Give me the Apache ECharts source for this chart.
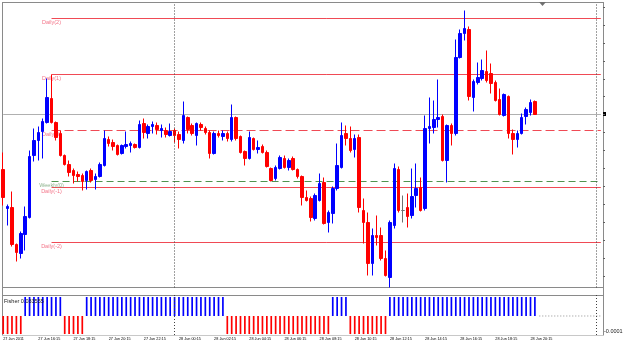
<!DOCTYPE html>
<html><head><meta charset="utf-8">
<script src="https://cdn.jsdelivr.net/npm/echarts@6/dist/echarts.min.js"></script>
<style>html,body{margin:0;padding:0;background:#fff}#c{width:625px;height:346px}</style>
</head><body><div id="c"></div>
<script>
// 15-minute bars, 27 Jun 2011 14:15 .. 28 Jun 2011 20:30
const opens=[1.4287,1.4248,1.4249,1.4212,1.4203,1.4222,1.4239,1.4301,1.4316,1.4325,
1.4334,1.4358,1.4334,1.4323,1.4301,1.4292,1.4286,1.4282,1.4281,1.4276,
1.4286,1.4277,1.4280,1.4291,1.4317,1.4314,1.4311,1.4303,1.4310,1.4311,
1.4312,1.4309,1.4333,1.4323,1.4330,1.4331,1.4326,1.4326,1.4321,1.4326,
1.4322,1.4316,1.4339,1.4331,1.4321,1.4332,1.4328,1.4324,1.4303,1.4323,
1.4320,1.4323,1.4317,1.4339,1.4320,1.4305,1.4298,1.4318,1.4307,1.4310,
1.4304,1.4288,1.4278,1.4288,1.4298,1.4289,1.4298,1.4287,1.4280,1.4259,
1.4258,1.4238,1.4256,1.4274,1.4234,1.4243,1.4268,1.4289,1.4323,1.4318,
1.4307,1.4319,1.4246,1.4234,1.4193,1.4221,1.4221,1.4198,1.4179,1.4231,
1.4287,1.4246,1.4249,1.4241,1.4261,1.4269,1.4248,1.4328,1.4329,1.4337,
1.4340,1.4296,1.4331,1.4323,1.4399,1.4423,1.4427,1.4359,1.4374,1.4378,
1.4385,1.4383,1.4374,1.4357,1.4341,1.4360,1.4323,1.4317,1.4323,1.4340,
1.4344,1.4355];
const closes=[1.4259,1.4250,1.4212,1.4204,1.4223,1.4240,1.4300,1.4316,1.4324,1.4335,
1.4359,1.4334,1.4319,1.4301,1.4292,1.4284,1.4281,1.4280,1.4275,1.4285,
1.4276,1.4280,1.4292,1.4318,1.4313,1.4310,1.4302,1.4311,1.4312,1.4313,
1.4309,1.4332,1.4324,1.4330,1.4332,1.4327,1.4328,1.4322,1.4325,1.4321,
1.4317,1.4341,1.4327,1.4323,1.4333,1.4329,1.4324,1.4303,1.4323,1.4321,
1.4323,1.4318,1.4339,1.4318,1.4304,1.4298,1.4319,1.4307,1.4309,1.4304,
1.4290,1.4276,1.4289,1.4299,1.4289,1.4296,1.4287,1.4280,1.4259,1.4256,
1.4239,1.4261,1.4273,1.4233,1.4244,1.4268,1.4291,1.4321,1.4318,1.4306,
1.4318,1.4249,1.4234,1.4193,1.4221,1.4219,1.4198,1.4181,1.4234,1.4288,
1.4246,1.4246,1.4240,1.4260,1.4268,1.4246,1.4328,1.4330,1.4337,1.4339,
1.4296,1.4331,1.4323,1.4399,1.4423,1.4428,1.4360,1.4375,1.4379,1.4386,
1.4376,1.4373,1.4356,1.4342,1.4362,1.4323,1.4317,1.4323,1.4339,1.4347,
1.4354,1.4342];
const lows=[1.4251,1.4231,1.4210,1.4195,1.4198,1.4206,1.4238,1.4295,1.4296,1.4298,
1.4333,1.4333,1.4316,1.4300,1.4291,1.4280,1.4273,1.4275,1.4266,1.4267,
1.4274,1.4267,1.4279,1.4290,1.4310,1.4306,1.4301,1.4302,1.4308,1.4304,
1.4308,1.4308,1.4318,1.4318,1.4323,1.4322,1.4319,1.4319,1.4320,1.4314,
1.4308,1.4313,1.4323,1.4321,1.4311,1.4326,1.4322,1.4298,1.4302,1.4319,
1.4316,1.4315,1.4315,1.4316,1.4303,1.4291,1.4297,1.4306,1.4303,1.4303,
1.4289,1.4275,1.4276,1.4287,1.4288,1.4286,1.4286,1.4278,1.4251,1.4255,
1.4235,1.4236,1.4255,1.4232,1.4224,1.4233,1.4266,1.4288,1.4311,1.4304,
1.4299,1.4244,1.4213,1.4181,1.4181,1.4211,1.4196,1.4180,1.4169,1.4228,
1.4244,1.4234,1.4229,1.4238,1.4249,1.4245,1.4246,1.4313,1.4323,1.4329,
1.4295,1.4274,1.4311,1.4321,1.4398,1.4416,1.4356,1.4345,1.4372,1.4376,
1.4374,1.4363,1.4355,1.4341,1.4340,1.4318,1.4302,1.4309,1.4322,1.4332,
1.4341,1.4342];
const highs=[1.4304,1.4252,1.4265,1.4213,1.4225,1.4250,1.4306,1.4328,1.4330,1.4338,
1.4378,1.4382,1.4335,1.4326,1.4302,1.4296,1.4288,1.4285,1.4283,1.4286,
1.4288,1.4283,1.4294,1.4326,1.4320,1.4317,1.4312,1.4312,1.4325,1.4315,
1.4313,1.4336,1.4338,1.4332,1.4335,1.4334,1.4332,1.4329,1.4333,1.4328,
1.4325,1.4355,1.4340,1.4333,1.4334,1.4334,1.4330,1.4326,1.4325,1.4326,
1.4326,1.4325,1.4352,1.4340,1.4321,1.4306,1.4325,1.4319,1.4316,1.4312,
1.4306,1.4289,1.4291,1.4301,1.4301,1.4298,1.4300,1.4288,1.4281,1.4266,
1.4260,1.4263,1.4283,1.4279,1.4246,1.4270,1.4313,1.4334,1.4331,1.4330,
1.4322,1.4322,1.4258,1.4244,1.4228,1.4241,1.4229,1.4206,1.4236,1.4293,
1.4290,1.4261,1.4263,1.4288,1.4293,1.4279,1.4341,1.4359,1.4356,1.4377,
1.4342,1.4332,1.4333,1.4417,1.4427,1.4446,1.4430,1.4377,1.4394,1.4397,
1.4406,1.4393,1.4376,1.4368,1.4363,1.4361,1.4327,1.4326,1.4343,1.4349,
1.4357,1.4356];
const fisher=[-0.95,-0.95,-0.95,-0.95,-0.95,
1,1,1,1,1,1,1,1,1,
-0.95,-0.95,-0.95,-0.95,-0.95,
1,1,1,1,1,1,1,1,1,1,1,1,1,1,1,1,1,1,1,1,1,1,1,1,1,1,1,1,1,1,1,1,
-0.95,-0.95,-0.95,-0.95,-0.95,-0.95,-0.95,-0.95,-0.95,-0.95,-0.95,-0.95,
-0.95,-0.95,-0.95,-0.95,-0.95,-0.95,-0.95,-0.95,-0.95,-0.95,-0.95,-0.95,
1,1,1,1,
-0.95,-0.95,-0.95,-0.95,-0.95,-0.95,-0.95,-0.95,-0.95,
1,1,1,1,1,1,1,1,1,1,1,1,1,1,1,1,1,1,1,1,1,1,1,1,1,1,1,1,1,1,1,1,1,1];
const tickLabels=["27 Jun 2011","27 Jun 16:15","27 Jun 18:15","27 Jun 20:15","27 Jun 22:15",
"28 Jun 00:15","28 Jun 02:15","28 Jun 04:15","28 Jun 06:15","28 Jun 08:15","28 Jun 10:15",
"28 Jun 12:15","28 Jun 14:15","28 Jun 16:15","28 Jun 18:15","28 Jun 20:15"];
const levelNames=["Daily(2)","Daily(1)","Daily(0)","Weekly(0)","Daily(-1)","Daily(-2)"];
const levelValues=[1.4438,1.4382,1.4326,1.4275,1.4269,1.4214];
const levelStartBar=11;
const bidPrice=1.4342;
const fisherTitle="Fisher 0.033555";
const subScaleLabel="-0.0001";

const FONT='Liberation Sans, Arial, sans-serif';
const N=137;
const MON=['Jan','Feb','Mar','Apr','May','Jun','Jul','Aug','Sep','Oct','Nov','Dec'];
const t0=Date.UTC(2011,5,27,14,15);
const p2=n=>String(n).padStart(2,'0');
const cats=[];
for(let i=0;i<N;i++){const d=new Date(t0+i*900000);cats.push(p2(d.getUTCDate())+' '+MON[d.getUTCMonth()]+' '+p2(d.getUTCHours())+':'+p2(d.getUTCMinutes()));}
const seps=[];cats.forEach((c,i)=>{if(c.endsWith('00:00'))seps.push(i);});
const candles=opens.map((o,i)=>[o,closes[i],lows[i],highs[i]]);

const sepStyle={color:'#404040',type:[1,2],width:1};
const isWeekly=n=>n.indexOf('Weekly')===0;

const levelSeries=levelNames.map((n,i)=>{
  const w=isWeekly(n);
  const dashed=n==='Daily(0)'||w;
  return {type:'line',xAxisIndex:0,yAxisIndex:0,silent:true,z:1,
    symbol:'none',showSymbol:false,
    lineStyle:{color:w?'#4f944f':'#f04a55',width:1,type:dashed?(w?[7,4]:[9,4]):'solid'},
    data:[[cats[levelStartBar],levelValues[i]],[cats[N-1],levelValues[i]]]};
});
const bidSeries={type:'line',xAxisIndex:0,yAxisIndex:0,silent:true,z:1,symbol:'none',showSymbol:false,
  lineStyle:{color:'#b0b0b0',width:1,type:'solid'},
  data:[[cats[0],bidPrice],[cats[N-1],bidPrice]]};

const chart=echarts.init(document.getElementById('c'),null,{renderer:'canvas'});
chart.setOption({
  animation:false,
  backgroundColor:'#ffffff',
  grid:[{left:1,top:3.5,width:602,height:284},{left:1,top:295,width:602,height:40},{left:1,top:7.05,width:602,height:268.95}],
  xAxis:[
    {type:'category',gridIndex:0,data:cats,boundaryGap:true,show:false},
    {type:'category',gridIndex:1,data:cats,boundaryGap:true,
      axisLine:{show:false},axisTick:{show:false},splitLine:{show:false},
      axisLabel:{interval:(i)=>i%8===0&&i/8<tickLabels.length,formatter:(v,i)=>tickLabels[i/8]||'',
        align:'left',fontSize:3.8,color:'#000',margin:1.5,fontFamily:FONT}},
    {type:'category',gridIndex:2,data:cats,show:false}
  ],
  yAxis:[
    {type:'value',gridIndex:0,min:1.4169,max:1.4453,show:false},
    {type:'value',gridIndex:1,min:-1,max:1.105,show:false},
    {type:'value',gridIndex:2,position:'right',min:0,max:15,interval:1,
      axisLine:{show:false},axisLabel:{show:false},splitLine:{show:false},
      axisTick:{show:true,length:2,lineStyle:{color:'#606060'}}}
  ],
  series:[
    {type:'candlestick',xAxisIndex:0,yAxisIndex:0,data:candles,barWidth:3,z:3,
      itemStyle:{color:'#0000ff',color0:'#ff0000',borderColor:'#0000ff',borderColor0:'#ff0000',borderColorDoji:'#707070',borderWidth:1},
      markLine:{silent:true,symbol:['none','none'],label:{show:false},animation:false,
        data:seps.map(s=>({xAxis:cats[s],lineStyle:sepStyle}))}
    },
    bidSeries
  ].concat(levelSeries).concat([
    {type:'scatter',xAxisIndex:0,yAxisIndex:0,symbolSize:1,itemStyle:{color:'rgba(0,0,0,0)'},z:2,silent:true,
      data:levelNames.map((n,i)=>({name:n,value:[cats[levelStartBar],levelValues[i]],
        label:{color:isWeekly(n)?'#6e9e6e':'#f0506a'}})),
      label:{show:true,position:'bottom',distance:0.5,formatter:'{b}',fontSize:5.5,fontFamily:FONT}
    },
    {type:'bar',xAxisIndex:1,yAxisIndex:1,data:fisher,barWidth:1.7,
      itemStyle:{color:(p)=>p.value>0?'#0000ff':'#ff0000'},
      markLine:{silent:true,symbol:['none','none'],label:{show:false},animation:false,
        data:seps.map(s=>({xAxis:cats[s],lineStyle:sepStyle}))}
    },
    {type:'line',xAxisIndex:1,yAxisIndex:1,silent:true,symbol:'none',showSymbol:false,
      lineStyle:{color:'#909090',type:[1,2],width:1},
      data:[[cats[fisher.length],0],[cats[N-1],0]]}
  ]),
  graphic:[
    {type:'line',shape:{x1:2.5,y1:2,x2:2.5,y2:336},style:{stroke:'#8a8a8a',lineWidth:1},silent:true},
    {type:'line',shape:{x1:603.5,y1:2,x2:603.5,y2:336},style:{stroke:'#8a8a8a',lineWidth:1},silent:true},
    {type:'line',shape:{x1:2,y1:2.5,x2:604,y2:2.5},style:{stroke:'#8a8a8a',lineWidth:1},silent:true},
    {type:'line',shape:{x1:2,y1:287.5,x2:604,y2:287.5},style:{stroke:'#8a8a8a',lineWidth:1},silent:true},
    {type:'line',shape:{x1:2,y1:295.5,x2:604,y2:295.5},style:{stroke:'#8a8a8a',lineWidth:1},silent:true},
    {type:'line',shape:{x1:2,y1:335.5,x2:604,y2:335.5},style:{stroke:'#c8c8c8',lineWidth:1},silent:true},
    {type:'polygon',shape:{points:[[539,2],[546,2],[542.5,6]]},style:{fill:'#707070'},silent:true},
    {type:'rect',shape:{x:603,y:112,width:3,height:4},style:{fill:'#000'},silent:true},
    {type:'text',x:4,y:301,style:{text:fisherTitle,fontSize:5.5,fontFamily:FONT,fill:'#202020',verticalAlign:'middle'},silent:true,z:10},
    {type:'text',x:604,y:331,style:{text:subScaleLabel,fontSize:5.5,fontFamily:FONT,fill:'#202020',verticalAlign:'middle'},silent:true}
  ]
});
</script></body></html>
